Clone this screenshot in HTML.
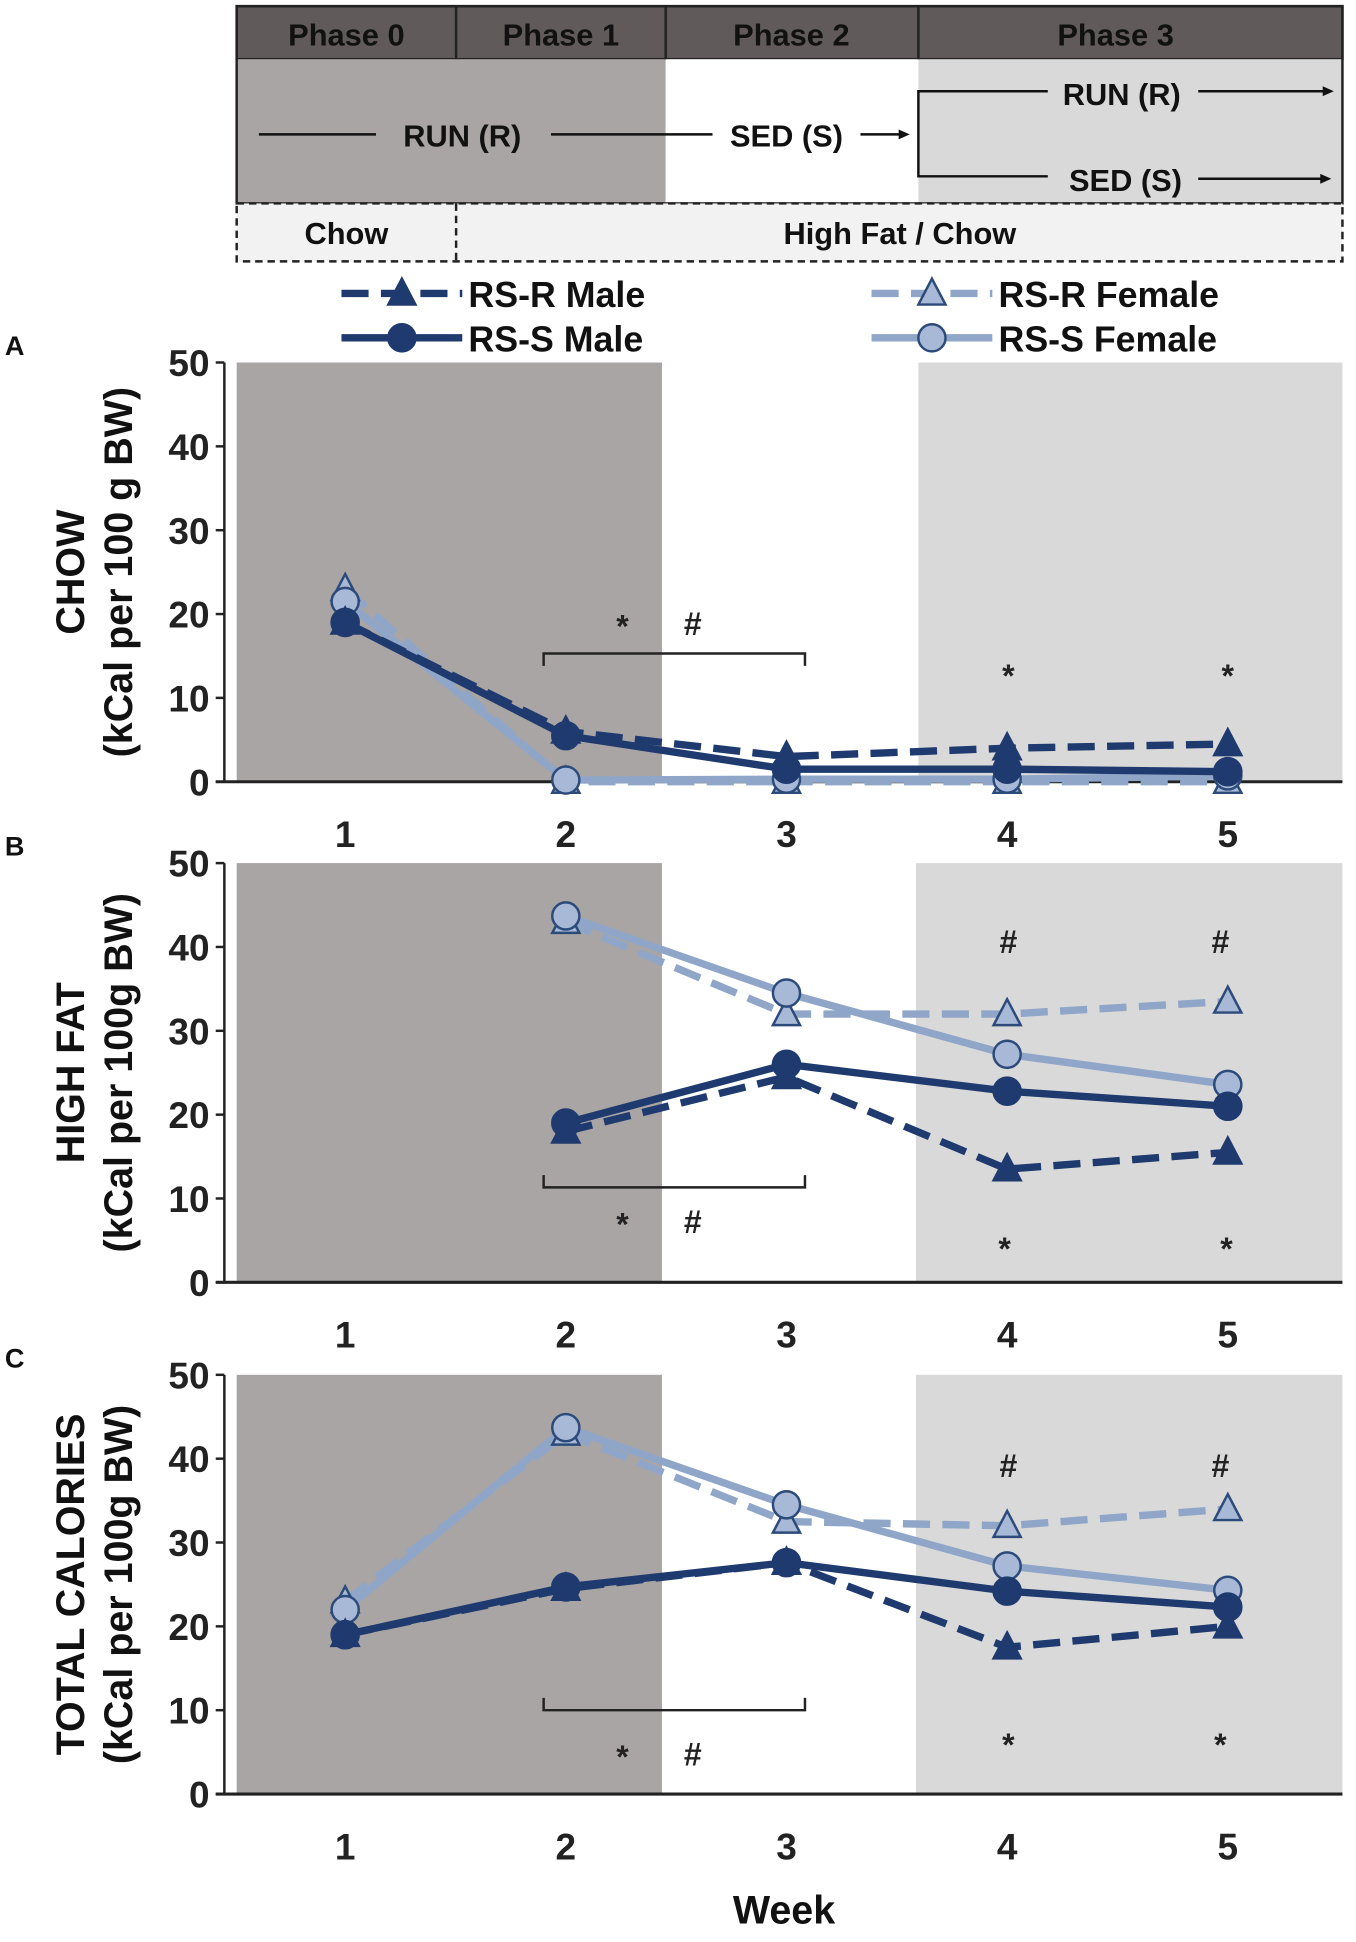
<!DOCTYPE html>
<html><head><meta charset="utf-8"><style>
html,body{margin:0;padding:0;background:#fff}
svg{display:block}
text{font-family:"Liberation Sans",Arial,sans-serif;font-weight:bold}
</style></head><body>
<svg id="chart" width="1356" height="1942" viewBox="0 0 1100 1575" preserveAspectRatio="none" xmlns="http://www.w3.org/2000/svg">
<g>
 <rect x="192" y="5" width="897" height="43" fill="#605b5a" stroke="#222" stroke-width="2"/>
 <rect x="192" y="48" width="348" height="117" fill="#a9a5a4"/>
 <rect x="540" y="48" width="205" height="117" fill="#fff"/>
 <rect x="745" y="48" width="344" height="117" fill="#d9d9d9"/>
 <rect x="192" y="5" width="897" height="160" fill="none" stroke="#222" stroke-width="2"/>
 <line x1="370" y1="5" x2="370" y2="48" stroke="#222" stroke-width="2"/>
 <line x1="540" y1="5" x2="540" y2="48" stroke="#222" stroke-width="2"/>
 <line x1="745" y1="5" x2="745" y2="48" stroke="#222" stroke-width="2"/>
 <text x="281" y="37" font-size="25" text-anchor="middle" fill="#111">Phase 0</text>
 <text x="455" y="37" font-size="25" text-anchor="middle" fill="#111">Phase 1</text>
 <text x="642" y="37" font-size="25" text-anchor="middle" fill="#111">Phase 2</text>
 <text x="905" y="37" font-size="25" text-anchor="middle" fill="#111">Phase 3</text>
 <line x1="210" y1="109" x2="305" y2="109" stroke="#111" stroke-width="2"/>
 <text x="375" y="119" font-size="25" text-anchor="middle" fill="#111">RUN (R)</text>
 <line x1="447" y1="109" x2="578" y2="109" stroke="#111" stroke-width="2"/>
 <text x="638" y="119" font-size="25" text-anchor="middle" fill="#111">SED (S)</text>
 <line x1="698" y1="109" x2="732" y2="109" stroke="#111" stroke-width="2"/>
 <polygon points="738,109 729,105 729,113" fill="#111"/>
 <polyline points="850,74 745,74 745,143 850,143" fill="none" stroke="#111" stroke-width="2"/>
 <text x="910" y="85" font-size="25" text-anchor="middle" fill="#111">RUN (R)</text>
 <line x1="972" y1="74" x2="1075" y2="74" stroke="#111" stroke-width="2"/>
 <polygon points="1082,74 1073,70 1073,78" fill="#111"/>
 <text x="913" y="155" font-size="25" text-anchor="middle" fill="#111">SED (S)</text>
 <line x1="972" y1="145" x2="1073" y2="145" stroke="#111" stroke-width="2"/>
 <polygon points="1080,145 1071,141 1071,149" fill="#111"/>
 <rect x="192" y="165" width="897" height="47" fill="#f2f2f2" stroke="#222" stroke-width="2" stroke-dasharray="6,4"/>
 <line x1="370" y1="165" x2="370" y2="212" stroke="#222" stroke-width="2" stroke-dasharray="6,4"/>
 <text x="281" y="198" font-size="25" text-anchor="middle" fill="#111">Chow</text>
 <text x="730" y="198" font-size="25" text-anchor="middle" fill="#111">High Fat / Chow</text>
</g>
<g id="legend"></g>
<g id="panels"></g>
<text x="636" y="1560" font-size="32" text-anchor="middle" fill="#111">Week</text>
</svg>
<script>
const weeks = [1, 2, 3, 4, 5];
const yTicks = [0, 10, 20, 30, 40, 50];
const seriesNames = ["RS-R Female", "RS-S Female", "RS-R Male", "RS-S Male"];
const chowRRF = [23, 0, 0, 0, 0];
const chowRSF = [21.5, 0.2, 0.3, 0.3, 0.7];
const chowRRM = [19, 6, 3, 4, 4.5];
const chowRSM = [19, 5.5, 1.5, 1.5, 1.2];
const hfRRF = [null, 43, 32, 32, 33.5];
const hfRSF = [null, 43.7, 34.5, 27.2, 23.6];
const hfRRM = [null, 18, 24.5, 13.5, 15.5];
const hfRSM = [null, 19, 26, 22.8, 21];
const totRRF = [23, 43, 32.5, 32, 34];
const totRSF = [22, 43.7, 34.5, 27.2, 24.3];
const totRRM = [19, 24.5, 27.6, 17.5, 20];
const totRSM = [19, 24.7, 27.6, 24.2, 22.3];

const NS = "http://www.w3.org/2000/svg";
const DARK = "#1f3a6e", LIGHT = "#8fa6c8", LFILL = "#a7b9d6";
const styles = [
  {c: LIGHT, dash: true, m: "tri", fill: LFILL, stroke: "#2c4a7a"},
  {c: LIGHT, dash: false, m: "circ", fill: LFILL, stroke: "#2c4a7a"},
  {c: DARK, dash: true, m: "tri", fill: DARK, stroke: DARK},
  {c: DARK, dash: false, m: "circ", fill: DARK, stroke: DARK}
];
function el(tag, attrs, parent) {
  const e = document.createElementNS(NS, tag);
  for (const k in attrs) e.setAttribute(k, attrs[k]);
  parent.appendChild(e);
  return e;
}
const xPos = w => 280 + (w - 1) * 179;
function marker(g, type, x, y, st) {
  let m;
  if (type === "tri") m = el("polygon", {points: `${x},${y-12} ${x-11},${y+9} ${x+11},${y+9}`, fill: st.fill, stroke: st.stroke, "stroke-width": 2}, g);
  else m = el("circle", {cx: x, cy: y, r: 11, fill: st.fill, stroke: st.stroke, "stroke-width": 2}, g);
  return m;
}
const lg = document.getElementById("legend");
const legPos = [[707, 238], [707, 274], [277, 238], [277, 274]];
seriesNames.forEach((n, i) => {
  const st = styles[i];
  const [x, y] = legPos[i];
  const g = el("g", {}, lg);
  
  
  el("line", {x1: x, y1: y, x2: x + 98, y2: y, stroke: st.c, "stroke-width": 6, "stroke-dasharray": st.dash ? "22,10" : "none"}, g);
  marker(g, st.m, x + 49, y, st);
  const t = el("text", {x: x + 103, y: y + 11, "font-size": 29, fill: "#111"}, g);
  t.textContent = n;
});
const panels = [
  {id: "A", top: 294, bot: 634, lt: 537, lg: 745, title1: "CHOW", title2: "(kCal per 100 g BW)", data: [chowRRF, chowRSF, chowRRM, chowRSM],
   bracket: {y: 530, dir: 1, sy: 505}, stars: [[818, 545], [996, 545]], hashes: []},
  {id: "B", top: 700, bot: 1040, lt: 537, lg: 743, title1: "HIGH FAT", title2: "(kCal per 100g BW)", data: [hfRRF, hfRSF, hfRRM, hfRSM],
   bracket: {y: 963, dir: -1, sy: 990}, stars: [[815, 1010], [995, 1010]], hashes: [[818, 763], [990, 763]]},
  {id: "C", top: 1115, bot: 1455, lt: 537, lg: 743, title1: "TOTAL CALORIES", title2: "(kCal per 100g BW)", data: [totRRF, totRSF, totRRM, totRSM],
   bracket: {y: 1387, dir: -1, sy: 1422}, stars: [[818, 1412], [990, 1412]], hashes: [[818, 1188], [990, 1188]]}
];
const root = document.getElementById("panels");
panels.forEach(p => {
  const g = el("g", {}, root);
  
  
  const yPos = v => p.bot - v / 50 * (p.bot - p.top);
  el("rect", {x: 192, y: p.top, width: p.lt - 192, height: p.bot - p.top, fill: "#a9a5a4"}, g);
  el("rect", {x: p.lg, y: p.top, width: 1089 - p.lg, height: p.bot - p.top, fill: "#d9d9d9"}, g);
  const pl = el("text", {x: 4, y: p.top - 6, "font-size": 22, fill: "#111"}, g);
  pl.textContent = p.id;
  el("line", {x1: 182, y1: p.top, x2: 182, y2: p.bot, stroke: "#222", "stroke-width": 2}, g);
  el("line", {x1: 175, y1: p.bot, x2: 1089, y2: p.bot, stroke: "#222", "stroke-width": 2.5}, g);
  yTicks.forEach(v => {
    el("line", {x1: 175, y1: yPos(v), x2: 182, y2: yPos(v), stroke: "#222", "stroke-width": 2}, g);
    const t = el("text", {x: 170, y: yPos(v) + 11, "font-size": 30, "text-anchor": "end", fill: "#222"}, g);
    
    
    t.textContent = v;
  });
  weeks.forEach(w => {
    const t = el("text", {x: xPos(w), y: p.bot + 53, "font-size": 30, "text-anchor": "middle", fill: "#222"}, g);
    
    
    t.textContent = w;
  });
  const cy = (p.top + p.bot) / 2;
  const t1 = el("text", {x: 0, y: 0, "font-size": 32, "text-anchor": "middle", fill: "#111", transform: `translate(68,${cy}) rotate(-90)`}, g);
  
  
  t1.textContent = p.title1;
  const t2 = el("text", {x: 0, y: 0, "font-size": 32, "text-anchor": "middle", fill: "#111", transform: `translate(107,${cy}) rotate(-90)`}, g);
  t2.textContent = p.title2;
  p.data.forEach((arr, i) => {
    const st = styles[i];
    const sg = el("g", {}, g);
    
    
    const pts = [];
    arr.forEach((v, j) => { if (v !== null) pts.push(xPos(weeks[j]) + "," + yPos(v)); });
    el("polyline", {points: pts.join(" "), fill: "none", stroke: st.c, "stroke-width": 6, "stroke-dasharray": st.dash ? "22,10" : "none", "stroke-linejoin": "round"}, sg);
  });
  p.data.forEach((arr, i) => {
    const st = styles[i];
    arr.forEach((v, j) => {
      if (v === null) return;
      const m = marker(g, st.m, xPos(weeks[j]), yPos(v), st);
      
      
    });
  });
  const b = p.bracket;
  el("polyline", {points: `${441},${b.y + 10 * b.dir} 441,${b.y} 653,${b.y} 653,${b.y + 10 * b.dir}`, fill: "none", stroke: "#222", "stroke-width": 2}, g);
  const s1 = el("text", {x: 505, y: b.sy + 12, "font-size": 26, "font-weight": "normal", "text-anchor": "middle", fill: "#222"}, g); s1.textContent = "*";
  const h1 = el("text", {x: 562, y: b.sy + 10, "font-size": 26, "font-weight": "normal", "text-anchor": "middle", fill: "#222"}, g); h1.textContent = "#";
  p.stars.forEach(([x, y]) => { const s = el("text", {x: x, y: y + 12, "font-size": 26, "font-weight": "normal", "text-anchor": "middle", fill: "#222"}, g); s.textContent = "*"; });
  p.hashes.forEach(([x, y]) => { const s = el("text", {x: x, y: y + 10, "font-size": 26, "font-weight": "normal", "text-anchor": "middle", fill: "#222"}, g); s.textContent = "#"; });
});
</script>
</body></html>
